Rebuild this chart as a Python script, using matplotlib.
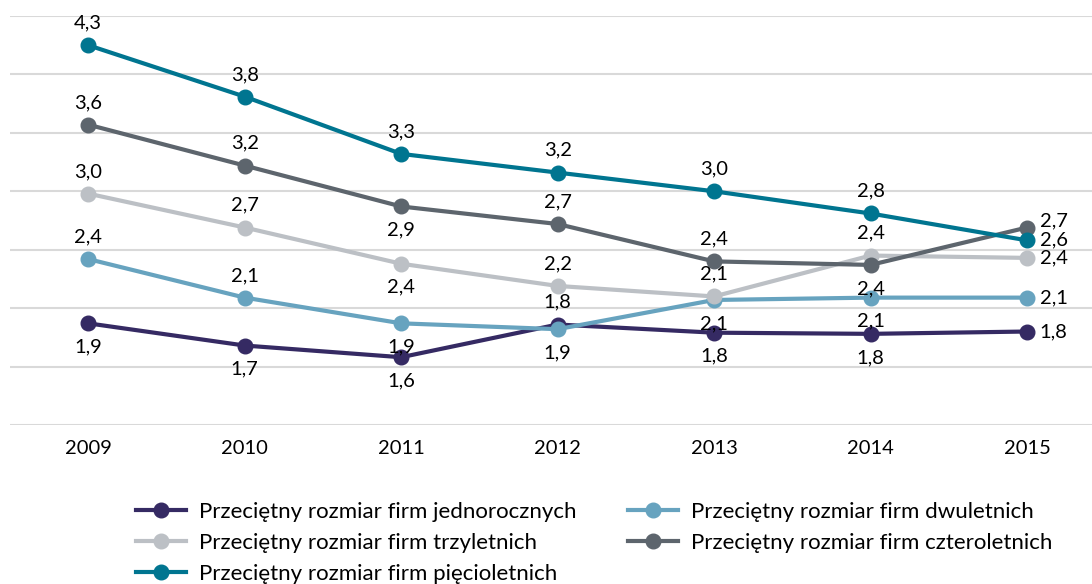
import matplotlib.pyplot as plt

years = ['2009', '2010', '2011', '2012', '2013', '2014', '2015']

jedno = [1.87, 1.68, 1.58, 1.86, 1.79, 1.78, 1.80]
dwu = [2.42, 2.09, 1.87, 1.82, 2.07, 2.09, 2.09]
trzy = [2.98, 2.69, 2.38, 2.19, 2.10, 2.45, 2.43]
cztero = [3.57, 3.22, 2.87, 2.72, 2.40, 2.37, 2.69]
piecio = [4.25, 3.81, 3.32, 3.16, 3.00, 2.81, 2.58]

jedno_lab = ['1,9', '1,7', '1,6', '1,8', '1,8', '1,8', '1,8']
dwu_lab = ['2,4', '2,1', '1,9', '1,9', '2,1', '2,1', '2,1']
trzy_lab = ['3,0', '2,7', '2,4', '2,2', '2,1', '2,4', '2,4']
cztero_lab = ['3,6', '3,2', '2,9', '2,7', '2,4', '2,4', '2,7']
piecio_lab = ['4,3', '3,8', '3,3', '3,2', '3,0', '2,8', '2,6']

names = ['Przeciętny rozmiar firm jednorocznych', 'Przeciętny rozmiar firm dwuletnich',
         'Przeciętny rozmiar firm trzyletnich', 'Przeciętny rozmiar firm czteroletnich',
         'Przeciętny rozmiar firm pięcioletnich']

# a = nad punktem, b = pod punktem, r = z prawej, u = z prawej i trochę wyżej
series = [
    (jedno, jedno_lab, '#352a63', 'bbbabbr'),
    (dwu, dwu_lab, '#67a3bf', 'aabbbbr'),
    (trzy, trzy_lab, '#bcc0c5', 'aabaaar'),
    (cztero, cztero_lab, '#5d656d', 'aabaabu'),
    (piecio, piecio_lab, '#007590', 'aaaaaar'),
]

plt.rcParams['font.family'] = ['Lato', 'DejaVu Sans']

fig = plt.figure(figsize=(10.92, 5.84), dpi=100)
ax = fig.add_axes([10 / 1092, 1 - 425 / 584, 1 - 10 / 1092, (425 - 16) / 584])

x = list(range(len(years)))
handles = []
for (vals, labs, color, pos), name in zip(series, names):
    h, = ax.plot(x, vals, color=color, lw=3, marker='o', ms=10.5, label=name, zorder=3)
    handles.append(h)
    for xi, v, t, p in zip(x, vals, labs, pos):
        if p == 'a':
            off, ha = (0, 16), 'center'
        elif p == 'b':
            off, ha = (0, -17), 'center'
        elif p == 'u':
            off, ha = (9, 5), 'left'
        else:
            off, ha = (9, 0), 'left'
        ax.annotate(t, (xi, v), xytext=off, textcoords='offset points', ha=ha, va='center',
                    fontsize=14.5, color='#000000', zorder=4)

ax.set_xlim(-0.5, 6.415)
ax.set_ylim(1.0, 4.5)
ax.set_yticks([1.0, 1.5, 2.0, 2.5, 3.0, 3.5, 4.0, 4.5])
ax.yaxis.grid(True, color='#d9d9d9', lw=1.5)
ax.set_axisbelow(True)
ax.set_yticklabels([])
ax.tick_params(axis='y', length=0)
ax.set_xticks(x)
ax.set_xticklabels(years, fontsize=14.5)
ax.tick_params(axis='x', length=0, pad=11)
for s in ['top', 'right', 'left', 'bottom']:
    ax.spines[s].set_visible(False)

order = [0, 2, 4, 1, 3]
fig.legend([handles[i] for i in order], [names[i] for i in order], ncol=2, loc='upper left',
           bbox_to_anchor=(118 / 1092, 1 - 484 / 584), frameon=False, fontsize=16,
           handlelength=2.25, handletextpad=0.6, columnspacing=2.3, labelspacing=0.49,
           borderpad=0.3)

fig.savefig('out.png', dpi=100)
